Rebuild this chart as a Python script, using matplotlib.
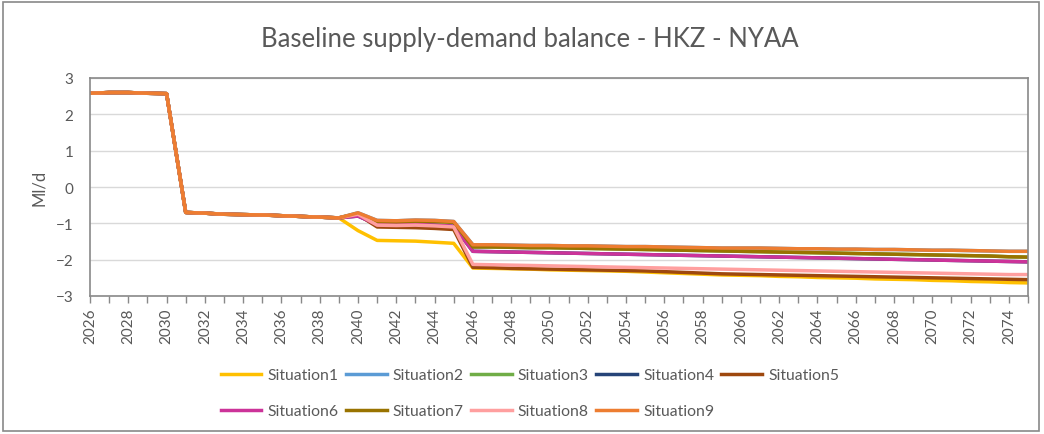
import matplotlib.pyplot as plt
from matplotlib.patches import Rectangle

plt.rcParams["font.family"] = ["Lato", "DejaVu Sans"]

years = list(range(2026, 2076))

# 2026-2039, all situations share the same path
common_start = [2.58, 2.60, 2.60, 2.58, 2.57, -0.70, -0.72, -0.75, -0.76,
                -0.77, -0.79, -0.81, -0.83, -0.85]

# 2040-2075 per situation
tail1 = [-1.20, -1.47, -1.48, -1.49, -1.52, -1.55,
         -2.23, -2.24, -2.25, -2.26, -2.28, -2.29, -2.30, -2.31, -2.32, -2.34,
         -2.36, -2.38, -2.40, -2.42, -2.43, -2.44, -2.46, -2.47, -2.49, -2.50,
         -2.51, -2.53, -2.54, -2.55, -2.57, -2.58, -2.60, -2.61, -2.63, -2.64]
tail5 = [-0.76, -1.10, -1.11, -1.12, -1.14, -1.17,
         -2.21, -2.22, -2.24, -2.25, -2.26, -2.27, -2.28, -2.29, -2.30, -2.31,
         -2.33, -2.35, -2.37, -2.39, -2.40, -2.41, -2.42, -2.43, -2.44, -2.45,
         -2.46, -2.47, -2.48, -2.49, -2.50, -2.51, -2.52, -2.53, -2.54, -2.55]
tail6 = [-0.80, -1.03, -1.04, -1.03, -1.05, -1.08,
         -1.77, -1.78, -1.79, -1.80, -1.81, -1.82, -1.83, -1.84, -1.85, -1.86,
         -1.87, -1.88, -1.89, -1.90, -1.91, -1.92, -1.93, -1.94, -1.95, -1.96,
         -1.97, -1.98, -1.99, -2.00, -2.01, -2.02, -2.03, -2.04, -2.05, -2.06]
tail7 = [-0.73, -0.95, -0.96, -0.94, -0.95, -0.97,
         -1.65, -1.65, -1.66, -1.67, -1.67, -1.68, -1.69, -1.70, -1.71, -1.72,
         -1.73, -1.74, -1.75, -1.76, -1.77, -1.78, -1.79, -1.80, -1.81, -1.82,
         -1.83, -1.84, -1.85, -1.86, -1.87, -1.88, -1.89, -1.90, -1.92, -1.93]
tail8 = [-0.75, -1.05, -1.06, -1.05, -1.07, -1.10,
         -2.13, -2.14, -2.15, -2.16, -2.17, -2.18, -2.19, -2.20, -2.21, -2.22,
         -2.23, -2.24, -2.25, -2.26, -2.27, -2.28, -2.29, -2.30, -2.31, -2.32,
         -2.33, -2.34, -2.35, -2.36, -2.37, -2.38, -2.39, -2.40, -2.41, -2.41]
tail9 = [-0.71, -0.92, -0.93, -0.91, -0.92, -0.95,
         -1.59, -1.59, -1.60, -1.61, -1.61, -1.62, -1.62, -1.63, -1.64, -1.64,
         -1.65, -1.66, -1.67, -1.68, -1.68, -1.68, -1.69, -1.70, -1.70, -1.71,
         -1.71, -1.72, -1.72, -1.73, -1.74, -1.74, -1.75, -1.76, -1.77, -1.77]
# situations 2-4 sit underneath the later series in the picture
tail2 = list(tail9)
tail3 = list(tail7)
tail4 = list(tail6)

names = ["Situation1", "Situation2", "Situation3", "Situation4", "Situation5",
         "Situation6", "Situation7", "Situation8", "Situation9"]
tails = [tail1, tail2, tail3, tail4, tail5, tail6, tail7, tail8, tail9]
colors = ["#FFC000", "#5B9BD5", "#70AD47", "#264478", "#9E480E",
          "#CC3399", "#997300", "#FF9F9F", "#ED7D31"]

fig = plt.figure(figsize=(10.44, 4.35), dpi=100)
ax = fig.add_axes([90 / 1044, 1 - 297 / 435, 938 / 1044, 218 / 435])

lines = {}
for name, tail, c in zip(names, tails, colors):
    lines[name], = ax.plot(years, common_start + tail, color=c, lw=2.5,
                           label=name, solid_joinstyle="round")

ax.set_xlim(2026, 2075)
ax.set_ylim(-3, 3)
ax.set_yticks(range(-3, 4))
ax.set_xticks(years, minor=True)
ax.set_xticks(years[::2])
ax.set_xticklabels([str(y) for y in years[::2]], rotation=90)
ax.grid(axis="y", color="#D9D9D9", lw=1)
ax.set_axisbelow(True)
for s in ax.spines.values():
    s.set_color("#898989")
    s.set_linewidth(1.2)
ax.tick_params(axis="both", colors="#595959", labelsize=11)
ax.tick_params(axis="x", which="both", length=5, color="#898989", width=1)
ax.tick_params(axis="y", length=0, pad=12)
ax.set_ylabel("Ml/d", fontsize=12, color="#595959", labelpad=6)

fig.text(530 / 1044, 1 - 40 / 435, "Baseline supply-demand balance - HKZ - NYAA",
         fontsize=18.5, color="#595959", ha="center", va="center")

# legend fills row-wise in the reference
order = ["Situation1", "Situation6", "Situation2", "Situation7", "Situation3",
         "Situation8", "Situation4", "Situation9", "Situation5"]
leg = fig.legend([lines[n] for n in order], order, ncol=5, frameon=False,
                 loc="upper center", bbox_to_anchor=(530 / 1044, 1 - 355 / 435),
                 fontsize=11.3, handlelength=2.6, handletextpad=0.4,
                 columnspacing=0.45, labelspacing=1.4, labelcolor="#595959")

fig.patches.append(Rectangle((3 / 1044, 3 / 435), 1036 / 1044, 429 / 435,
                             transform=fig.transFigure, fill=False,
                             edgecolor="#898989", lw=1.2))

fig.savefig("out.png", dpi=100)
